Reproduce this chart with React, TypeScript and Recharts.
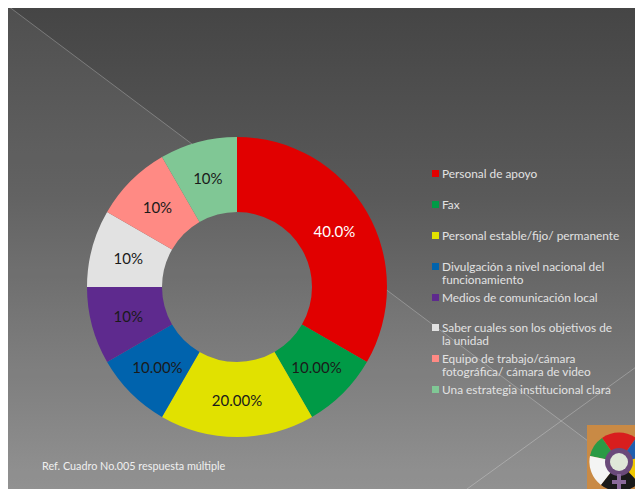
import { PieChart, Pie, Cell, Legend } from 'recharts'

const CATEGORIES = [
  'Personal de apoyo',
  'Fax',
  'Personal estable/fijo/ permanente',
  'Divulgación a nivel nacional del funcionamiento',
  'Medios de comunicación local',
  'Saber cuales son los objetivos de la unidad',
  'Equipo de trabajo/cámara fotográfica/ cámara de video',
  'Una estrategia institucional clara',
]
const VALUES = [40, 10, 20, 10, 10, 10, 10, 10]
const LABELS = ['40.0%', '10.00%', '20.00%', '10.00%', '10%', '10%', '10%', '10%']
const COLORS = ['#e10000', '#009a46', '#e1e100', '#0063ad', '#5e2a8e', '#e2e2e2', '#ff8a84', '#80c795']
const FOOTNOTE = 'Ref. Cuadro No.005 respuesta múltiple'

const FONT = 'Lato, "Open Sans", sans-serif'
const W = 635
const H = 483
const RADIAN = Math.PI / 180

const data = CATEGORIES.map((name, i) => ({ name, value: VALUES[i], label: LABELS[i] }))

// eslint-disable-next-line @typescript-eslint/no-explicit-any
function renderLabel(props: any) {
  const { cx, cy, midAngle, innerRadius, outerRadius, index } = props
  const r = (innerRadius + outerRadius) / 2
  const x = cx + r * Math.cos(-midAngle * RADIAN)
  const y = cy + r * Math.sin(-midAngle * RADIAN)
  return (
    <text
      x={x}
      y={y}
      textAnchor="middle"
      dominantBaseline="central"
      fontFamily={FONT}
      fontSize={15}
      fill={index === 0 ? '#ffffff' : '#1a1a1a'}
    >
      {data[index].label}
    </text>
  )
}

// eslint-disable-next-line @typescript-eslint/no-explicit-any
function renderLegend(props: any) {
  // keep the legend in data order (recharts sorts it by name otherwise)
  const items = [...(props.payload ?? [])].sort(
    (a: any, b: any) => CATEGORIES.indexOf(a.value) - CATEGORIES.indexOf(b.value),
  )
  return (
    <div style={{ fontFamily: FONT, fontSize: 11.85, lineHeight: '13px', color: '#e2e2e2' }}>
      {items.map((it: any, i: number) => (
        <div key={i} style={{ height: 30.9, display: 'flex', alignItems: 'flex-start' }}>
          <span
            style={{
              width: 7,
              height: 7,
              marginTop: 3,
              marginRight: 3,
              background: it.color,
              flex: '0 0 auto',
            }}
          />
          <span style={{ width: 178 }}>{it.value}</span>
        </div>
      ))}
    </div>
  )
}

function Logo() {
  return (
    <svg width={56} height={64} style={{ position: 'absolute', left: 579, top: 419 }}>
      <rect width={56} height={64} fill="#c98a45" />
      <g transform="translate(32,37)">
        <path d="M0,0 L-17,-24 A29,29 0 0 1 17,-24 Z" fill="#d81e1e" />
        <path d="M0,0 L-29,-6 A29,29 0 0 1 -17,-24 Z" fill="#2a9a45" />
        <path d="M0,0 L-29,-6 A29,29 0 0 0 -18,23 Z" fill="#f4f4f4" />
        <path d="M0,0 L17,-24 A29,29 0 0 1 29,-6 Z" fill="#1f5fb0" />
        <path d="M0,0 L29,-6 A29,29 0 0 1 20,21 Z" fill="#f0c800" />
        <path d="M0,0 L-18,23 A29,29 0 0 0 20,21 Z" fill="#1a1a1a" />
        <circle r={14} fill="#6a4a7a" />
        <circle r={9} fill="#dfe8d8" />
        <rect x={-2} y={12} width={4} height={16} fill="#8a6a9a" />
        <rect x={-7} y={18} width={14} height={4} fill="#8a6a9a" />
      </g>
    </svg>
  )
}

export default function App() {
  return (
    <div
      style={{
        position: 'relative',
        width: W,
        height: H,
        marginTop: -2,
        overflow: 'hidden',
        background: 'linear-gradient(to bottom, #454545 0%, #5a5a5a 40%, #8b8b8b 100%)',
      }}
    >
      <svg width={W} height={H} style={{ position: 'absolute', left: 0, top: 0 }}>
        <polygon points={`0,0 ${W},${W * 0.75} ${W},${H} 0,${H}`} fill="rgba(255,255,255,0.06)" />
        <line x1={0} y1={0} x2={W} y2={W * 0.75} stroke="rgba(255,255,255,0.25)" strokeWidth={1} />
        <line x1={459} y1={H} x2={W} y2={356} stroke="rgba(255,255,255,0.25)" strokeWidth={1} />
      </svg>
      <div style={{ position: 'absolute', left: 0, top: 0 }}>
        <PieChart width={W} height={H} margin={{ top: 0, right: 0, bottom: 0, left: 0 }}>
          <Pie
            data={data}
            dataKey="value"
            nameKey="name"
            cx={229}
            cy={281}
            innerRadius={75}
            outerRadius={150}
            startAngle={90}
            endAngle={-270}
            stroke="none"
            label={renderLabel}
            labelLine={false}
            isAnimationActive={false}
          >
            {data.map((d, i) => (
              <Cell key={d.name} fill={COLORS[i]} />
            ))}
          </Pie>
          <Legend
            layout="vertical"
            align="right"
            verticalAlign="top"
            content={renderLegend}
            wrapperStyle={{ left: 424, top: 161, width: 205 }}
          />
        </PieChart>
      </div>
      <div
        style={{
          position: 'absolute',
          left: 34,
          top: 453,
          fontFamily: FONT,
          fontSize: 10.8,
          color: '#f0f0f0',
        }}
      >
        {FOOTNOTE}
      </div>
      <Logo />
    </div>
  )
}
